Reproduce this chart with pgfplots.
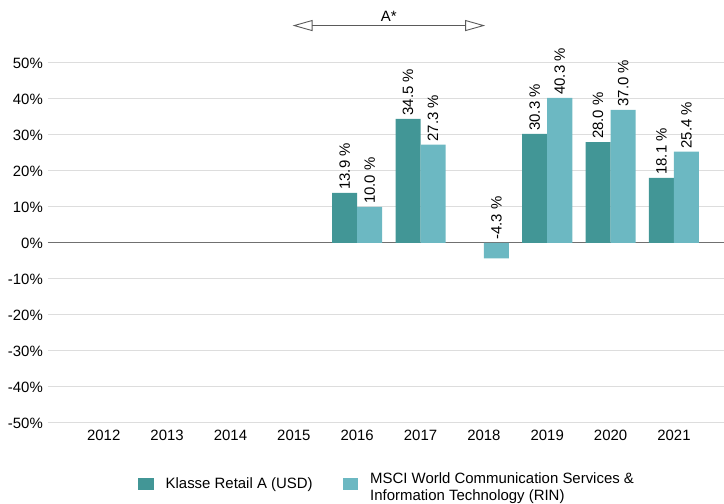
\documentclass[border=0pt]{standalone}
\usepackage{fontspec}
\setmainfont{Liberation Sans}
\usepackage{pgfplots}
\pgfplotsset{compat=1.18}
\usetikzlibrary{arrows.meta}
\definecolor{dark}{HTML}{429696}
\definecolor{light}{HTML}{6CB8C2}
\definecolor{gridc}{HTML}{DDDDDD}
\definecolor{zeroc}{HTML}{707070}
\begin{document}
\fontsize{15}{18}\selectfont
\begin{tikzpicture}
\begin{axis}[
  scale only axis, width=676bp, height=360bp,
  xmin=-0.88, xmax=9.79, ymin=-50, ymax=50,
  clip=false,
  axis line style={draw=none},
  major tick length=0pt,
  tick style={draw=none},
  xtick={0,...,9},
  xticklabels={2012,2013,2014,2015,2016,2017,2018,2019,2020,2021},
  ytick={-50,-40,-30,-20,-10,0,10,20,30,40,50},
  yticklabels={-50\%,-40\%,-30\%,-20\%,-10\%,0\%,10\%,20\%,30\%,40\%,50\%},
  ymajorgrids, grid style={draw=gridc, line width=1pt},
  extra y ticks={0}, extra y tick labels={},
  extra y tick style={grid style={draw=zeroc, line width=1pt}},
  ticklabel style={font=\fontsize{15}{18}\selectfont},
  yticklabel style={xshift=0bp},
  xticklabel style={yshift=-2bp},
  ybar, bar width=0.395,
  point meta=explicit symbolic,
  nodes near coords={\pgfplotspointmeta},
  every node near coord/.append style={rotate=90, anchor=west, font=\fontsize{15}{18}\selectfont, inner sep=3bp, black},
  legend style={draw=none, inner sep=0pt, at={(0.1331,-0.169)}, anchor=west, legend columns=2,
     font=\fontsize{15}{18}\selectfont,
     nodes={inner sep=0pt},
     /tikz/every odd column/.append style={column sep=12bp},
     /tikz/every even column/.append style={column sep=30bp}},
  legend image code/.code={\fill[#1] (0bp,-6bp) rectangle (15.5bp,6bp);},
]
\addplot[fill=dark, draw=none, bar shift=-0.1975] table[meta=lab] {
x y lab
4 13.9 13.9~\%
5 34.5 34.5~\%
7 30.3 30.3~\%
8 28.0 28.0~\%
9 18.1 18.1~\%
};
\addplot[fill=light, draw=none, bar shift=0.1975] table[meta=lab] {
x y lab
4 10.0 10.0~\%
5 27.3 27.3~\%
6 -4.3 {}
7 40.3 40.3~\%
8 37.0 37.0~\%
9 25.4 25.4~\%
};
\node[rotate=90, anchor=west, inner sep=3bp, font=\fontsize{15}{18}\selectfont] at (axis cs:6.1975,0) {-4.3 \%};
\legend{Klasse Retail A (USD), {\raisebox{3bp}{\begin{tabular}{@{}l@{}}MSCI World Communication Services \&\\[-1bp]Information Technology (RIN)\end{tabular}}}}
\draw[{Triangle[open,length=20bp,width=11bp]}-{Triangle[open,length=20bp,width=11bp]}, draw=zeroc!80!black, line width=0.9pt] (axis cs:2.98,60.4) -- (axis cs:6.02,60.4);
\node[anchor=south, inner sep=2bp, font=\fontsize{15}{18}\selectfont] at (axis cs:4.5,61.0) {A*};
\end{axis}
\pgfresetboundingbox
\path[use as bounding box] ([shift={(-48bp,-81bp)}]current axis.south west) rectangle ([shift={(0bp,63bp)}]current axis.north east);
\end{tikzpicture}
\end{document}
